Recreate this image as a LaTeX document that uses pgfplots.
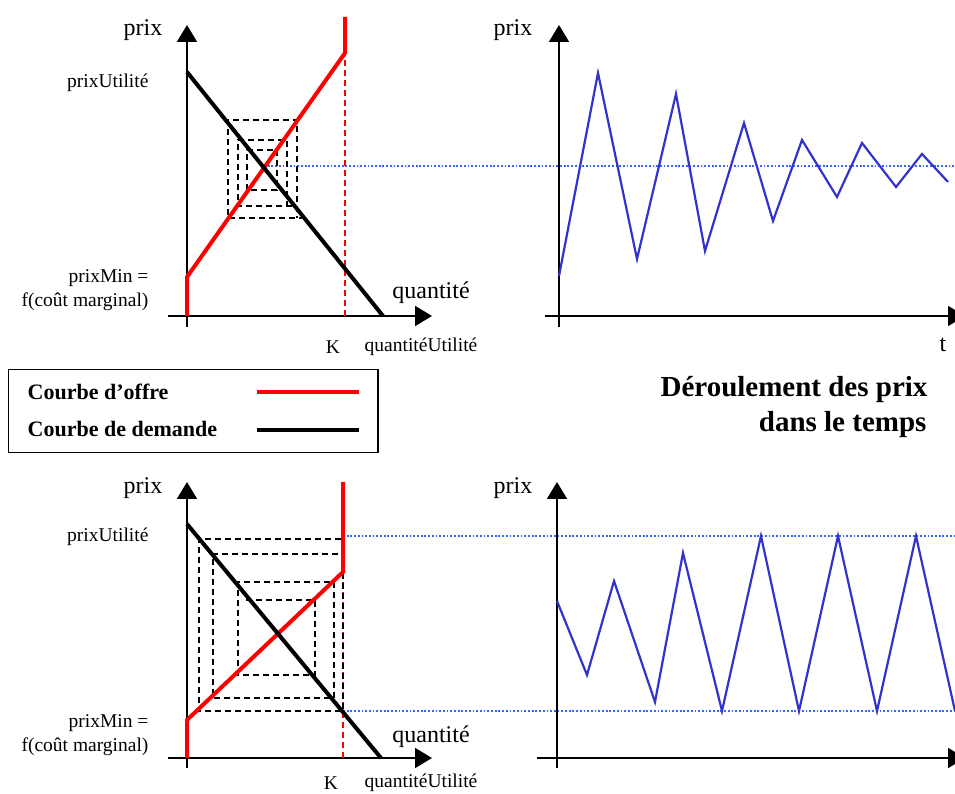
\documentclass[border=0pt]{standalone}
\usepackage{fontspec}
\setmainfont{Liberation Serif}
\usepackage{pgfplots}
\pgfplotsset{compat=1.18}
\usetikzlibrary{arrows.meta}
\definecolor{supply}{RGB}{255,0,0}
\definecolor{pblue}{RGB}{51,51,204}
\definecolor{dblue}{RGB}{51,102,255}
\pgfplotsset{
 panel/.style={x=1pt,y=1pt,axis lines=middle,enlargelimits=false,clip=false,
   xtick=\empty,ytick=\empty,anchor=south west,
   every inner x axis line/.append style={line width=1.8pt,-{Triangle[width=20pt,length=17pt]}},
   every inner y axis line/.append style={line width=1.8pt,-{Triangle[width=20pt,length=17pt]}}},
 supplyline/.style={supply,line width=4pt},
 demandline/.style={black,line width=4pt},
 cob/.style={black,line width=1.6pt,dash pattern=on 6pt off 4pt,forget plot},
 capdash/.style={supply,line width=1.6pt,dash pattern=on 6pt off 4pt,forget plot},
 priceline/.style={pblue,line width=2.2pt,forget plot},
 dotline/.style={dblue,line width=1.4pt,dash pattern=on 1.8pt off 1.9pt,forget plot},
}
\newcommand{\bigfs}{\fontsize{24}{28}\selectfont}
\newcommand{\labfs}{\fontsize{19.5}{23}\selectfont}
\begin{document}
\begin{tikzpicture}
\useasboundingbox (0,0) rectangle (955pt,794pt);
% ---------------- top left ----------------
\begin{axis}[panel,at={(168pt,467pt)},xmin=-19,xmax=245,ymin=-11,ymax=291]
\addplot[dotline] coordinates {(77,150) (768,150)};
\addplot[capdash] coordinates {(158,0) (158,263)};
\addplot[cob] coordinates {(118,98) (41,98) (41,196) (110,196) (110,98)};
\addplot[cob] coordinates {(105,110) (51,110) (51,176) (100,176) (100,110)};
\addplot[cob] coordinates {(60,126) (60,166) (90,166) (90,126) (60,126)};
\addplot[supplyline,forget plot] coordinates {(0,0) (0,39) (158,263) (158,299)};
\addplot[demandline,forget plot] coordinates {(0,244) (196,0)};
\node[font=\bigfs] at (axis cs:-44,286) {prix};
\node[font=\labfs,anchor=east] at (axis cs:-35,233) {prixUtilité};
\node[font=\labfs,anchor=east] at (axis cs:-35,38) {prixMin =};
\node[font=\labfs,anchor=east] at (axis cs:-35,14) {f(coût marginal)};
\node[font=\bigfs] at (axis cs:244,23) {quantité};
\node[font=\labfs] at (axis cs:146,-31) {K};
\node[font=\labfs] at (axis cs:234,-31) {quantitéUtilité};
\end{axis}
% ---------------- top right ----------------
\begin{axis}[panel,at={(545pt,467pt)},xmin=-14,xmax=406,ymin=-11,ymax=291]
\addplot[priceline] coordinates {(0,40) (39,243) (78,57) (117,222) (146,65) (185,193) (214,95) (243,176) (278,119) (303,173) (337,129) (363,162) (389,134)};
\node[font=\bigfs] at (axis cs:-46,286) {prix};
\node[font=\bigfs] at (axis cs:384,-29) {t};
\end{axis}
% ---------------- bottom left ----------------
\begin{axis}[panel,at={(168pt,26pt)},xmin=-19,xmax=245,ymin=-10,ymax=276,
  legend plot pos=right,
  legend image code/.code={\path (0pt,0pt); \draw[#1] (36pt,0pt) -- (138pt,0pt);},
  legend style={at={(axis cs:-179,389)},anchor=north west,draw=black,line width=1.5pt,
    font=\bfseries\fontsize{22}{26}\selectfont,inner xsep=17pt,inner ysep=12pt,row sep=17pt,
    cells={anchor=west}}]
\addplot[dotline] coordinates {(156,222) (768,222)};
\addplot[dotline] coordinates {(156,47) (768,47)};
\addplot[capdash] coordinates {(156,0) (156,186)};
\addplot[cob] coordinates {(59,158) (128,158) (128,83) (51,83) (51,176) (147,176) (147,60) (26,60) (26,204) (156,204) (156,47) (12,47) (12,219) (156,219)};
\addplot[supplyline] coordinates {(0,0) (0,38) (156,186) (156,276)};
\addlegendentry{Courbe d’offre}
\addplot[demandline] coordinates {(0,234) (194,0)};
\addlegendentry{Courbe de demande}
\node[font=\bigfs] at (axis cs:-44,270) {prix};
\node[font=\labfs,anchor=east] at (axis cs:-35,221) {prixUtilité};
\node[font=\labfs,anchor=east] at (axis cs:-35,35) {prixMin =};
\node[font=\labfs,anchor=east] at (axis cs:-35,11) {f(coût marginal)};
\node[font=\bigfs] at (axis cs:244,21) {quantité};
\node[font=\labfs] at (axis cs:144,-25) {K};
\node[font=\labfs] at (axis cs:234,-25) {quantitéUtilité};
\end{axis}
% ---------------- bottom right ----------------
\begin{axis}[panel,at={(537pt,26pt)},xmin=-20,xmax=408,ymin=-10,ymax=276]
\addplot[priceline] coordinates {(0,157) (30,83) (57,177) (98,56) (126,205) (165,47) (204,222) (242,47) (281,222) (320,47) (359,222) (398,47)};
\node[font=\bigfs] at (axis cs:-44,270) {prix};
\node[font=\bfseries\fontsize{29}{34}\selectfont,anchor=east] at (axis cs:374,368) {Déroulement des prix};
\node[font=\bfseries\fontsize{29}{34}\selectfont,anchor=east] at (axis cs:373,333) {dans le temps};
\end{axis}
\end{tikzpicture}
\end{document}
